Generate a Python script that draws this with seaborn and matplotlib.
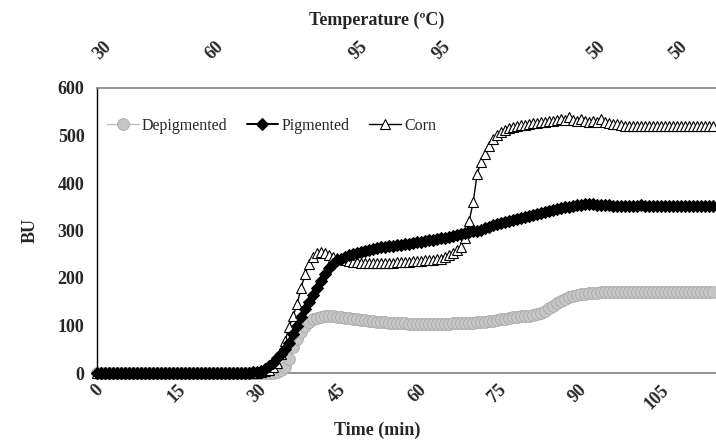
import numpy as np
import pandas as pd
import matplotlib
matplotlib.use("Agg")
import matplotlib.pyplot as plt
import seaborn as sns

# ---- data -------------------------------------------------------------
time_min = np.round(np.arange(0, 115.6, 0.75), 2)   # sampling grid (min)

pigmented = [
    0, 0, 0, 0, 0, 0, 0, 0, 0, 0,
    0, 0, 0, 0, 0, 0, 0, 0, 0, 0,
    0, 0, 0, 0, 0, 0, 0, 0, 0, 0,
    0, 0, 0, 0, 0, 0, 0, 1, 1, 2,
    3, 5, 8, 14, 22, 31, 40, 50, 64, 82,
    100, 117, 134, 150, 165, 179, 193, 208, 221, 230,
    237, 241, 245, 248, 251, 253, 255, 257, 259, 261,
    263, 265, 266, 267, 268, 269, 270, 271, 272, 273,
    275, 276, 277, 279, 280, 282, 284, 285, 287, 289,
    291, 293, 295, 297, 299, 300, 302, 305, 308, 311,
    314, 316, 318, 320, 322, 324, 326, 328, 330, 333,
    335, 337, 339, 341, 343, 345, 347, 349, 350, 352,
    353, 354, 355, 355, 355, 354, 354, 353, 353, 352,
    352, 351, 352, 352, 351, 352, 353, 352, 351, 352,
    352, 351, 352, 352, 351, 352, 352, 351, 352, 351,
    352, 352, 351, 352, 352,
]

corn = [
    0, 0, 0, 0, 0, 0, 0, 0, 0, 0,
    0, 0, 0, 0, 0, 0, 0, 0, 0, 0,
    0, 0, 0, 0, 0, 0, 0, 0, 0, 0,
    0, 0, 0, 0, 0, 0, 0, 0, 0, 1,
    1, 2, 4, 7, 12, 22, 40, 68, 97, 120,
    145, 180, 208, 230, 245, 252, 255, 252, 249, 245,
    242, 239, 237, 235, 234, 233, 232, 232, 231, 231,
    231, 231, 232, 232, 232, 233, 233, 234, 234, 235,
    235, 236, 237, 237, 238, 239, 241, 244, 248, 253,
    258, 266, 285, 320, 360, 420, 445, 462, 478, 492,
    502, 508, 512, 515, 518, 520, 522, 523, 524, 526,
    527, 528, 529, 530, 531, 533, 535, 532, 538, 533,
    531, 534, 530, 529, 531, 529, 534, 528, 527, 525,
    524, 522, 521, 520, 520, 519, 520, 520, 519, 520,
    520, 519, 520, 520, 519, 520, 520, 520, 519, 520,
    520, 519, 520, 520, 520,
]

depigmented = [
    0, 0, 0, 0, 0, 0, 0, 0, 0, 0,
    0, 0, 0, 0, 0, 0, 0, 0, 0, 0,
    0, 0, 0, 0, 0, 0, 0, 0, 0, 0,
    0, 0, 0, 0, 0, 0, 0, 0, 0, 0,
    0, 0, 0, 0, 0, 2, 6, 12, 30, 55,
    72, 86, 98, 108, 113, 116, 118, 120, 121, 120,
    118, 117, 116, 115, 114, 113, 112, 111, 110, 109,
    108, 107, 107, 106, 106, 105, 105, 105, 104, 104,
    104, 104, 104, 104, 104, 104, 104, 104, 104, 105,
    105, 105, 106, 106, 106, 107, 107, 108, 109, 110,
    111, 113, 114, 115, 117, 118, 119, 120, 121, 122,
    124, 127, 131, 136, 142, 147, 151, 155, 159, 162,
    164, 166, 167, 168, 169, 169, 170, 170, 170, 170,
    170, 170, 170, 170, 170, 170, 170, 170, 170, 170,
    170, 170, 170, 170, 170, 170, 170, 170, 170, 170,
    170, 170, 170, 170, 170,
]

x_ticks = [0, 15, 30, 45, 60, 75, 90, 105]
y_ticks = [0, 100, 200, 300, 400, 500, 600]
temp_pos = [1.0, 22.0, 49.0, 64.5, 93.5, 109.0]
temp_labels = ["30", "60", "95", "95", "50", "50"]

# ---- plot -------------------------------------------------------------
sns.set_theme(style="white")
plt.rcParams["font.family"] = ["Liberation Serif", "DejaVu Serif"]

fig = plt.figure(figsize=(7.16, 4.43), dpi=100)
ax = fig.add_axes([97 / 716, 1 - 373 / 443, 1 - 97 / 716, 285 / 443])

df = pd.DataFrame({"t": time_min, "dep": depigmented,
                   "pig": pigmented, "corn": corn})

sns.lineplot(data=df, x="t", y="dep", ax=ax, color="#BDBDBD", lw=1.0,
             marker="o", markersize=8.5, markerfacecolor="#C6C6C6",
             markeredgecolor="#A8A8A8", markeredgewidth=0.6,
             label="Depigmented", zorder=2, clip_on=False)
sns.lineplot(data=df, x="t", y="pig", ax=ax, color="black", lw=1.4,
             marker="D", markersize=5.8, markerfacecolor="black",
             markeredgecolor="black", label="Pigmented", zorder=4,
             clip_on=False)
sns.lineplot(data=df, x="t", y="corn", ax=ax, color="black", lw=1.0,
             marker="^", markersize=7.2, markerfacecolor="white",
             markeredgecolor="black", markeredgewidth=0.8,
             label="Corn", zorder=3, clip_on=False)

ax.set_xlim(0, 116)
ax.set_ylim(0, 600)
ax.set_yticks(y_ticks)
ax.set_xticks(x_ticks)
ax.set_xticklabels([str(v) for v in x_ticks], rotation=45, ha="center",
                   fontsize=13, fontweight="bold")
ax.set_yticklabels([str(v) for v in y_ticks], fontsize=13, fontweight="bold")
ax.tick_params(axis="x", length=0, pad=6)
ax.tick_params(axis="y", direction="inout", length=8, width=1, color="black", pad=5)

ax.spines["right"].set_visible(False)
ax.spines["left"].set_color("black")
ax.spines["left"].set_linewidth(1.0)
ax.spines["bottom"].set_color("#808080")
ax.spines["bottom"].set_linewidth(1.2)
ax.spines["top"].set_color("#808080")
ax.spines["top"].set_linewidth(1.2)
ax.spines["bottom"].set_zorder(1)

ax.set_xlabel("")
ax.set_ylabel("")

sec = ax.secondary_xaxis("top")
sec.set_xticks(temp_pos)
sec.set_xticklabels(temp_labels, rotation=45, ha="center",
                    fontsize=13, fontweight="bold")
sec.tick_params(axis="x", length=0, pad=18)
sec.spines["top"].set_visible(False)

fig.text(377 / 716, 1 - 430 / 443, "Time (min)", ha="center", va="center",
         fontsize=13, fontweight="bold")
fig.text(377 / 716, 1 - 20 / 443, "Temperature (ºC)", ha="center", va="center",
         fontsize=13, fontweight="bold")
fig.text(30 / 716, 1 - 230 / 443, "BU", ha="center", va="center",
         rotation=90, fontsize=13, fontweight="bold")

leg = ax.legend(loc="upper left", bbox_to_anchor=(0.0, 0.93), ncol=3,
                frameon=False, fontsize=11.5, handlelength=2.0,
                columnspacing=1.2, handletextpad=0.2, borderaxespad=0.2)

fig.savefig("out.png", dpi=100)
